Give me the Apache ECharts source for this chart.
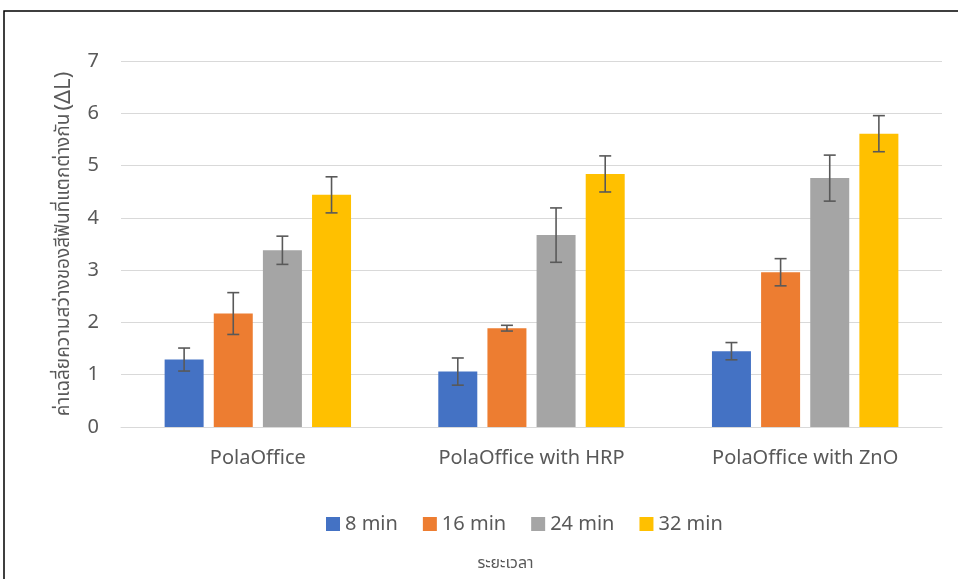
<!DOCTYPE html>
<html>
<head>
<meta charset="utf-8" />
<script src="https://cdn.jsdelivr.net/npm/echarts@6/dist/echarts.min.js"></script>
<style>
	html, body { margin: 0; padding: 0; background: #fff; }
	#main { width: 958px; height: 579px; }
</style>
</head>
<body>
<div id="main"></div>
<script type="text/javascript">
// 数据
var categories = ['PolaOffice', 'PolaOffice with HRP', 'PolaOffice with ZnO'];
var seriesNames = ['8 min', '16 min', '24 min', '32 min'];
var colors = ['#4472C4', '#ED7D31', '#A5A5A5', '#FFC000'];
var yTicks = [0, 1, 2, 3, 4, 5, 6, 7];

var min8 = [1.29, 1.06, 1.45];
var min16 = [2.17, 1.89, 2.96];
var min24 = [3.38, 3.67, 4.76];
var min32 = [4.44, 4.84, 5.61];

var err8 = [0.22, 0.26, 0.165];
var err16 = [0.40, 0.055, 0.26];
var err24 = [0.27, 0.52, 0.44];
var err32 = [0.345, 0.345, 0.345];

var means = [min8, min16, min24, min32];
var errs = [err8, err16, err24, err32];

var BAR_W = 39;
var BAR_GAP = 0.26;
var font = '"Noto Sans", "Noto Sans Thai", sans-serif';

var myChart = echarts.init(document.getElementById('main'));

var series = [];
means.forEach(function (vals, i) {
	series.push({
		name: seriesNames[i],
		type: 'bar',
		data: vals,
		barWidth: BAR_W,
		barGap: (BAR_GAP * 100) + '%',
		itemStyle: { color: colors[i] }
	});
});

// 误差线
means.forEach(function (vals, i) {
	var data = vals.map(function (v, j) {
		return [j, v - errs[i][j], v + errs[i][j]];
	});
	series.push({
		type: 'custom',
		name: 'err' + i,
		data: data,
		z: 10,
		silent: true,
		renderItem: function (params, api) {
			var step = BAR_W * (1 + BAR_GAP);
			var off = (i - 1.5) * step;
			var lo = api.coord([api.value(0), api.value(1)]);
			var hi = api.coord([api.value(0), api.value(2)]);
			var x = lo[0] + off;
			var half = 6;
			var st = { stroke: '#595959', lineWidth: 1.6 };
			return {
				type: 'group',
				children: [
					{ type: 'line', shape: { x1: x, y1: hi[1], x2: x, y2: lo[1] }, style: st },
					{ type: 'line', shape: { x1: x - half, y1: hi[1], x2: x + half, y2: hi[1] }, style: st },
					{ type: 'line', shape: { x1: x - half, y1: lo[1], x2: x + half, y2: lo[1] }, style: st }
				]
			};
		}
	});
});

var option = {
	animation: false,
	textStyle: { fontFamily: font },
	graphic: [{
		type: 'rect',
		shape: { x: 4, y: 11, width: 1000, height: 700 },
		style: { fill: 'none', stroke: '#000', lineWidth: 1.5 },
		silent: true
	}],
	grid: { left: 121, right: 16, top: 61, bottom: 152, outerBoundsMode: 'none' },
	legend: {
		data: seriesNames,
		left: 326,
		top: 514,
		padding: 0,
		itemWidth: 14,
		itemHeight: 14,
		itemGap: 25,
		icon: 'rect',
		textStyle: { fontSize: 20, color: '#595959', fontFamily: font }
	},
	xAxis: {
		type: 'category',
		data: categories,
		name: 'ระยะเวลา',
		nameLocation: 'middle',
		nameGap: 128,
		nameTextStyle: { fontSize: 16, color: '#595959', padding: [0, 52, 0, 0] },
		axisLine: { lineStyle: { color: '#D9D9D9' } },
		axisTick: { show: false },
		axisLabel: { fontSize: 20, color: '#595959', margin: 21 }
	},
	yAxis: {
		type: 'value',
		min: yTicks[0],
		max: yTicks[yTicks.length - 1],
		interval: 1,
		name: '{t|ค่าเฉลี่ยความสว่างของสีฟันที่แตกต่างกัน} {d|(ΔL)}',
		nameLocation: 'middle',
		nameGap: 46,
		nameRotate: 90,
		nameTextStyle: {
			rich: {
				t: { fontSize: 19, color: '#595959' },
				d: { fontSize: 22, color: '#595959' }
			}
		},
		axisLine: { show: false },
		axisTick: { show: false },
		axisLabel: { fontSize: 20, color: '#595959', margin: 22 },
		splitLine: { lineStyle: { color: '#D9D9D9', width: 1.2 } }
	},
	series: series
};

myChart.setOption(option);
</script>
</body>
</html>
